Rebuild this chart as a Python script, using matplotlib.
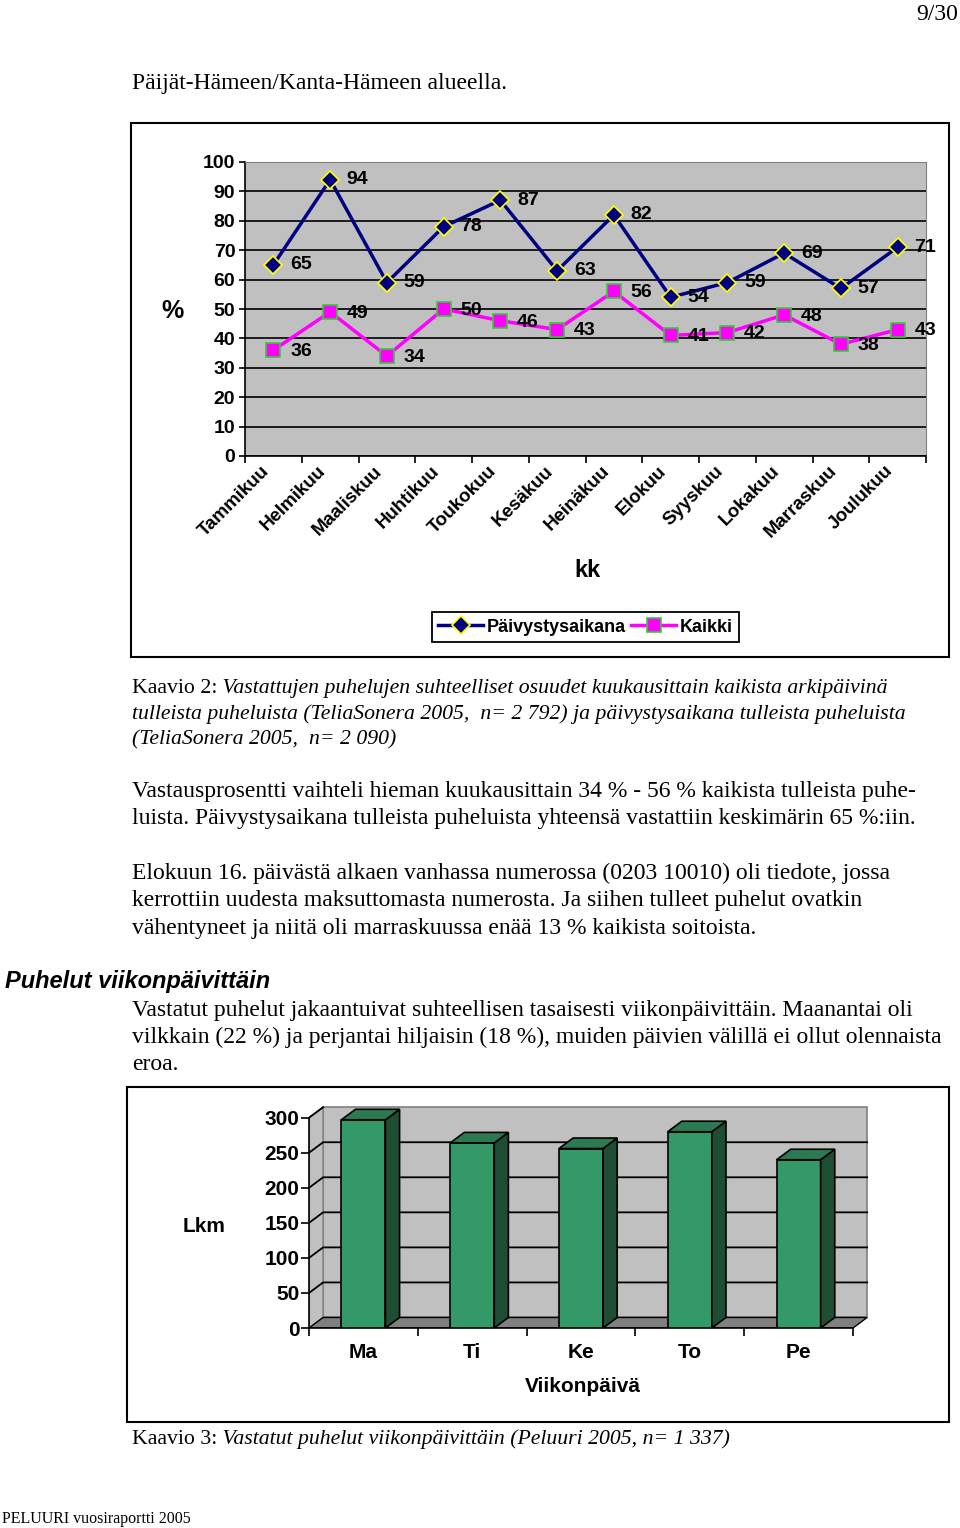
import matplotlib
matplotlib.use('Agg')
import matplotlib.pyplot as plt
from matplotlib import font_manager
from matplotlib.patches import Rectangle, Polygon
from matplotlib.transforms import ScaledTranslation
import numpy as np

# --- data ---
months = ['Tammikuu', 'Helmikuu', 'Maaliskuu', 'Huhtikuu', 'Toukokuu', 'Kesäkuu',
          'Heinäkuu', 'Elokuu', 'Syyskuu', 'Lokakuu', 'Marraskuu', 'Joulukuu']
paivystys = [65, 94, 59, 78, 87, 63, 82, 54, 59, 69, 57, 71]
kaikki = [36, 49, 34, 50, 46, 43, 56, 41, 42, 48, 38, 43]

days = ['Ma', 'Ti', 'Ke', 'To', 'Pe']
calls = [297, 264, 256, 280, 240]

W, H = 960, 1528
names = {f.name for f in font_manager.fontManager.ttflist}
SANS = 'Liberation Sans Narrow' if 'Liberation Sans Narrow' in names else 'Liberation Sans'
SERIF = 'Liberation Serif'
BODY = 17
CAP = 15.7

fig = plt.figure(figsize=(W / 100, H / 100), dpi=100)


def fx(px):
    return px / W


def fy(py):
    return 1 - py / H


# --- page text ---
def line(x, y, parts, size=BODY):
    r = fig.canvas.get_renderer()
    xf = fx(x)
    for txt, style in parts:
        t = fig.text(xf, fy(y), txt, family=SERIF, style=style, fontsize=size,
                     ha='left', va='baseline')
        bb = t.get_window_extent(r)
        xf = bb.x1 / W


fig.text(fx(958), fy(20), '9/30', family=SERIF, fontsize=BODY, ha='right', va='baseline')
line(132, 89, [('Päijät-Hämeen/Kanta-Hämeen alueella.', 'normal')])

line(132, 693, [('Kaavio 2:', 'normal'),
                (' Vastattujen puhelujen suhteelliset osuudet kuukausittain kaikista arkipäivinä', 'italic')], CAP)
line(132, 719, [('tulleista puheluista (TeliaSonera 2005,  n= 2 792) ja päivystysaikana tulleista puheluista', 'italic')], CAP)
line(132, 744, [('(TeliaSonera 2005,  n= 2 090)', 'italic')], CAP)

line(132, 797, [('Vastausprosentti vaihteli hieman kuukausittain 34 % - 56 % kaikista tulleista puhe-', 'normal')])
line(132, 824, [('luista. Päivystysaikana tulleista puheluista yhteensä vastattiin keskimärin 65 %:iin.', 'normal')])

line(132, 879, [('Elokuun 16. päivästä alkaen vanhassa numerossa (0203 10010) oli tiedote, jossa', 'normal')])
line(132, 906, [('kerrottiin uudesta maksuttomasta numerosta. Ja siihen tulleet puhelut ovatkin', 'normal')])
line(132, 934, [('vähentyneet ja niitä oli marraskuussa enää 13 % kaikista soitoista.', 'normal')])

fig.text(fx(5), fy(988), 'Puhelut viikonpäivittäin', family='Liberation Sans', fontsize=17,
         fontweight='bold', style='italic', ha='left', va='baseline')
line(132, 1016, [('Vastatut puhelut jakaantuivat suhteellisen tasaisesti viikonpäivittäin. Maanantai oli', 'normal')])
line(132, 1043, [('vilkkain (22 %) ja perjantai hiljaisin (18 %), muiden päivien välillä ei ollut olennaista', 'normal')])
line(132, 1070, [('eroa.', 'normal')])

line(132, 1444, [('Kaavio 3:', 'normal'),
                 (' Vastatut puhelut viikonpäivittäin (Peluuri 2005, n= 1 337)', 'italic')], CAP)
fig.text(fx(2), fy(1523), 'PELUURI vuosiraportti 2005', family=SERIF, fontsize=11.5,
         ha='left', va='baseline')

# --- chart frames ---
fig.patches.append(Rectangle((fx(131), fy(657)), fx(949) - fx(131), (657 - 123) / H,
                             transform=fig.transFigure, fill=False, ec='black', lw=1.5))
fig.patches.append(Rectangle((fx(127), fy(1422)), fx(949) - fx(127), (1422 - 1087) / H,
                             transform=fig.transFigure, fill=False, ec='black', lw=1.5))

# --- line chart ---
ax = fig.add_axes([fx(245), fy(456), fx(926) - fx(245), (456 - 162) / H])
ax.set_facecolor('#C0C0C0')
ax.set_xlim(-0.5, 11.5)
ax.set_ylim(0, 100)
ax.set_yticks(range(0, 101, 10))
ax.yaxis.grid(True, color='black', lw=1.2)
ax.set_axisbelow(True)
ax.set_xticks(np.arange(-0.5, 12, 1))
ax.set_xticklabels([])
ax.set_xticks(range(12), minor=True)
ax.set_xticklabels(months, minor=True, rotation=45, ha='right', va='center',
                   rotation_mode='anchor', family=SANS, fontweight='bold', fontsize=13.5)
ax.tick_params(axis='x', which='major', length=5, width=1.2)
ax.tick_params(axis='x', which='minor', length=0, pad=9)
ax.tick_params(axis='y', length=4, width=1.2, pad=3)
for lab in ax.get_yticklabels():
    lab.set_family(SANS)
    lab.set_fontweight('bold')
    lab.set_fontsize(14)
shift = ScaledTranslation(-5 / 72, 0, fig.dpi_scale_trans)
for lab in ax.get_xticklabels(minor=True):
    lab.set_transform(lab.get_transform() + shift)
for s in ['left', 'bottom']:
    ax.spines[s].set_linewidth(1.2)
for s in ['top', 'right']:
    ax.spines[s].set_color('#808080')

x = np.arange(len(months))
ax.plot(x, paivystys, color='#000080', lw=2.5, marker='D', ms=9, mfc='#000080',
        mec='#FFFF00', mew=1.2, label='Päivystysaikana', zorder=3)
ax.plot(x, kaikki, color='#FF00FF', lw=2.5, marker='s', ms=9.5, mfc='#FF00FF',
        mec='#33CC33', mew=1.2, label='Kaikki', zorder=3)
for i in range(len(months)):
    ax.annotate(str(paivystys[i]), (x[i], paivystys[i]), xytext=(12, 0), textcoords='offset points',
                ha='left', va='center', family=SANS, fontweight='bold', fontsize=14, zorder=4)
    ax.annotate(str(kaikki[i]), (x[i], kaikki[i]), xytext=(12, -1), textcoords='offset points',
                ha='left', va='center', family=SANS, fontweight='bold', fontsize=14, zorder=4)

fig.text(fx(172), fy(311), '%', family=SANS, fontweight='bold', fontsize=18, ha='center', va='center')
fig.text(fx(588), fy(571), 'kk', family=SANS, fontweight='bold', fontsize=17, ha='center', va='center')

h, l = ax.get_legend_handles_labels()
leg = fig.legend(h, l, loc='center', bbox_to_anchor=(fx(585.5), fy(627)), ncol=2,
                 frameon=True, fancybox=False, edgecolor='black', framealpha=1,
                 prop={'family': SANS, 'weight': 'bold', 'size': 13},
                 handlelength=2.5, columnspacing=0.3, handletextpad=0.2, borderpad=0.35)
leg.get_frame().set_linewidth(1.3)

# --- 3D-style bar chart ---
dx, dy = 0.13, 15
bw = 0.405
ax2 = fig.add_axes([fx(309), fy(1328), 5.2 * 108.8 / W, 320 * 0.701 / H])
ax2.set_xlim(0, 5.2)
ax2.set_ylim(0, 320)
ax2.patch.set_visible(False)
for s in ['top', 'right']:
    ax2.spines[s].set_visible(False)
ax2.spines['left'].set_bounds(0, 300)
ax2.spines['bottom'].set_bounds(0, 5)
ax2.spines['left'].set_linewidth(1.2)
ax2.spines['bottom'].set_linewidth(1.2)

ax2.add_patch(Polygon([(dx, dy), (5 + dx, dy), (5 + dx, 300 + dy), (dx, 300 + dy)],
                      fc='#C0C0C0', ec='#808080', lw=1.2, zorder=0))
ax2.add_patch(Polygon([(0, 0), (dx, dy), (dx, 300 + dy), (0, 300)],
                      fc='#C0C0C0', ec='#808080', lw=1.2, zorder=0))
ax2.add_patch(Polygon([(0, 0), (5, 0), (5 + dx, dy), (dx, dy)],
                      fc='#808080', ec='black', lw=1.0, zorder=1))
for g in range(50, 300, 50):
    ax2.plot([0, dx, 5 + dx], [g, g + dy, g + dy], color='black', lw=1.3, zorder=1)
ax2.plot([0, dx], [300, 300 + dy], color='black', lw=1.3, zorder=1)

xs = np.arange(len(days)) + 0.5
ax2.bar(xs, calls, width=bw, color='#339966', ec='black', lw=1.2, zorder=3)
for xc, v in zip(xs, calls):
    r = xc + bw / 2
    lft = xc - bw / 2
    ax2.add_patch(Polygon([(r, 0), (r + dx, dy), (r + dx, v + dy), (r, v)],
                          fc='#1E4D33', ec='black', lw=1.2, zorder=3))
    ax2.add_patch(Polygon([(lft, v), (r, v), (r + dx, v + dy), (lft + dx, v + dy)],
                          fc='#2B7A52', ec='black', lw=1.2, zorder=3))

ax2.set_yticks(range(0, 301, 50))
ax2.set_xticks(range(6))
ax2.set_xticklabels([])
ax2.set_xticks(xs, minor=True)
ax2.set_xticklabels(days, minor=True, family=SANS, fontweight='bold', fontsize=15)
ax2.tick_params(axis='x', which='major', length=6, width=1.2)
ax2.tick_params(axis='x', which='minor', length=0, pad=11)
ax2.tick_params(axis='y', length=6, width=1.2, pad=1)
for lab in ax2.get_yticklabels():
    lab.set_family(SANS)
    lab.set_fontweight('bold')
    lab.set_fontsize(15)

fig.text(fx(204), fy(1226), 'Lkm', family=SANS, fontweight='bold', fontsize=15, ha='center', va='center')
fig.text(fx(583), fy(1387), 'Viikonpäivä', family=SANS, fontweight='bold', fontsize=15,
         ha='center', va='center')

fig.savefig('out.png', dpi=100)
